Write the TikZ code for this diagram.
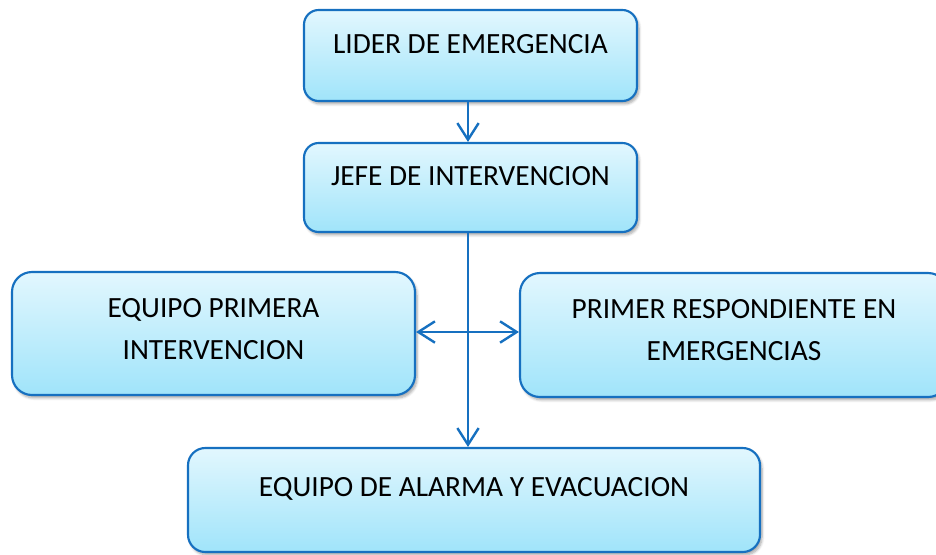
\documentclass[tikz,border=0pt]{standalone}
\usepackage{fontspec}
\setmainfont{Carlito}
\usetikzlibrary{arrows.meta,shadows.blur,calc}
\definecolor{bord}{RGB}{22,112,192}
\definecolor{ftop}{RGB}{226,247,254}
\definecolor{fbot}{RGB}{160,228,250}
\begin{document}
\begin{tikzpicture}[x=0.75pt,y=-0.75pt,
  box/.style={draw=bord, line width=1.6pt, rounded corners=#1,
    top color=ftop, bottom color=fbot,
    blur shadow={shadow xshift=1.5pt,shadow yshift=-2.2pt,shadow opacity=35,shadow blur steps=6},
    font=\fontsize{22}{31.5}\selectfont, align=center, inner sep=0pt},
  box/.default=11pt,
  conn/.style={draw=bord, line width=1.8pt, -{Straight Barb[length=12.5pt,width=16pt]}},
  dconn/.style={draw=bord, line width=1.8pt, {Straight Barb[length=12.5pt,width=16pt]}-{Straight Barb[length=12.5pt,width=16pt]}}]
\useasboundingbox (0,0) rectangle (936,554);
\coordinate (sp) at (468,0);
\coordinate (hj) at (468,332);
\node[box=11pt, minimum width=249.75pt, minimum height=68.25pt, text height=14pt, text depth=17pt] (lider) at (470.5,55.5) {LIDER DE EMERGENCIA};
\node[box=11pt, minimum width=249.75pt, minimum height=66.75pt, text height=14pt, text depth=17.75pt] (jefe) at (470.5,187.5) {JEFE DE INTERVENCION};
\node[box=15pt, minimum width=302.25pt, minimum height=92.25pt, text height=50pt, text depth=11.75pt] (epi) at (213.5,333.5) {EQUIPO PRIMERA\\INTERVENCION};
\node[box=15pt, minimum width=321pt, minimum height=93pt, text height=50pt, text depth=12.5pt] (pre) at (734,335) {PRIMER RESPONDIENTE EN\\EMERGENCIAS};
\node[box=13pt, minimum width=429pt, minimum height=78pt, text height=14pt, text depth=20pt] (alarma) at (474,500) {EQUIPO DE ALARMA Y EVACUACION};
\draw[conn] (lider.south -| sp) -- (jefe.north -| sp);
\draw[conn] (jefe.south -| sp) -- (alarma.north -| sp);
\draw[dconn] (epi.east |- hj) -- (pre.west |- hj);
\end{tikzpicture}
\end{document}
